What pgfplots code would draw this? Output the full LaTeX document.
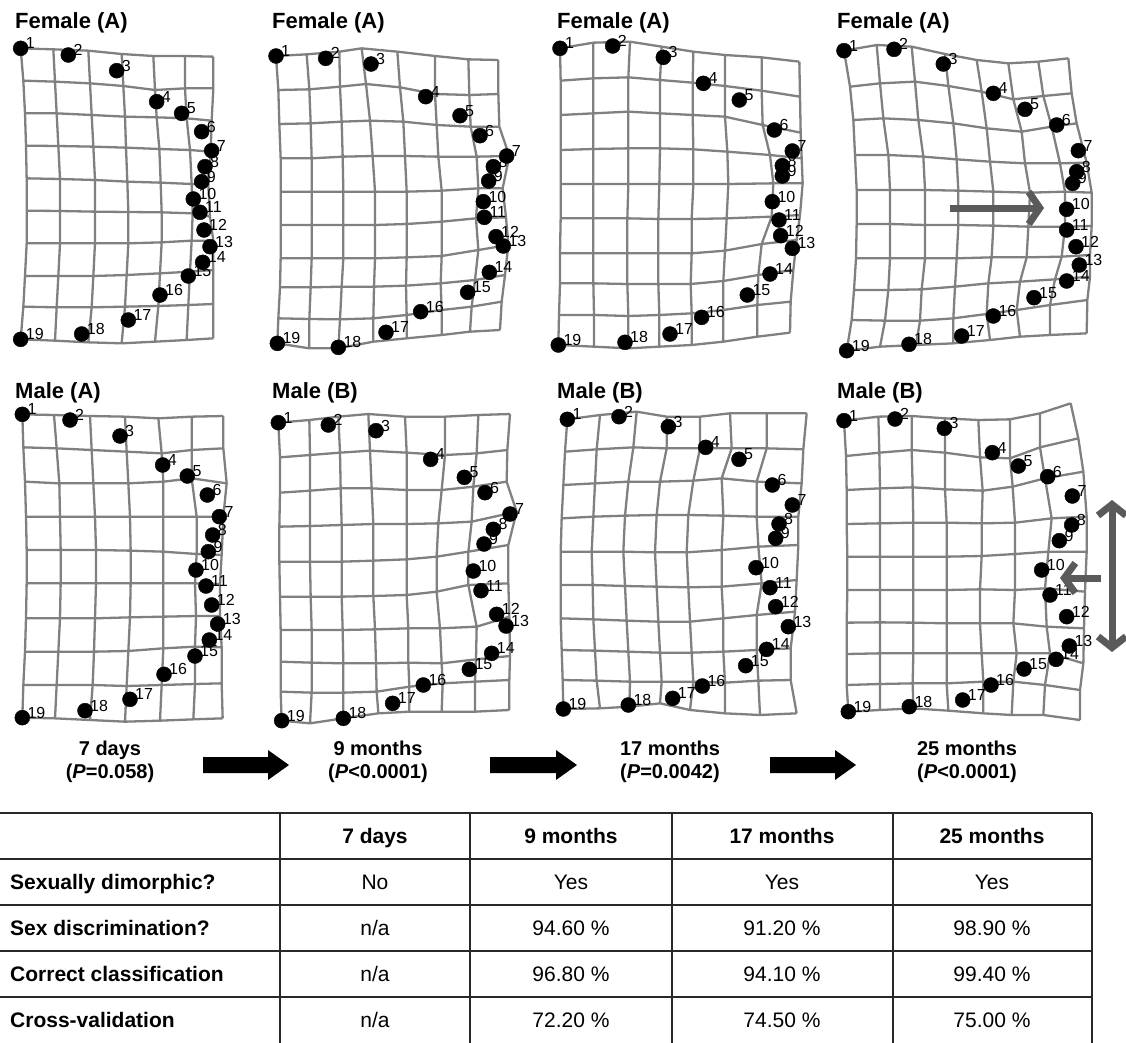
\documentclass[border=0pt]{standalone}
\usepackage{fontspec}
\setmainfont{Liberation Sans}
\usepackage{pgfplots}
\pgfplotsset{compat=1.18}
\usepackage{pgfplotstable}
\usetikzlibrary{arrows.meta}
\definecolor{gridc}{RGB}{128,128,128}
\definecolor{arrc}{RGB}{90,90,90}
\definecolor{tabc}{RGB}{40,40,40}
\newcommand\lmfont{\fontsize{16}{16}\selectfont}
\newcommand\ttlfont{\fontsize{22}{24}\selectfont\bfseries}
\newcommand\capfont{\fontsize{20}{23}\selectfont\bfseries}
\newcommand\tabfont{\fontsize{21}{23}\selectfont}
\pgfplotsset{
  gl/.style={draw=gridc, line width=2.3pt, no marks, line join=round, unbounded coords=jump, forget plot},
  lmlab/.style={only marks, mark=none, point meta=explicit symbolic, nodes near coords,
    every node near coord/.append style={anchor=west, font=\lmfont, xshift=5pt, yshift=5pt, inner sep=0pt, text=black}},
  lm/.style={only marks, mark=*, mark size=7.5pt, black},
  panelax/.style={anchor=north west, hide axis, clip=false, x=0.333333pt, y=0.333333pt, y dir=reverse, xmin=0, xmax=880, ymin=0, ymax=1080},
}
\newcommand\landmarks[1]{%
  \addplot[lmlab] table[x=x,y=y,meta=l]{#1};
  \addplot[lm] table[x=x,y=y]{#1};
}
% ---------------- landmark tables (panel units = 1/3 px) ----------------
\pgfplotstableread[row sep=\\]{l x y\\
1 62 145\\ 2 205 165\\ 3 350 212\\ 4 470 305\\ 5 545 340\\ 6 605 395\\ 7 635 452\\ 8 615 500\\ 9 605 545\\ 10 580 597\\
11 600 637\\ 12 612 690\\ 13 630 740\\ 14 608 787\\ 15 565 828\\ 16 480 885\\ 17 385 960\\ 18 245 1002\\ 19 62 1018\\}\LPa
\pgfplotstableread[row sep=\\]{l x y\\
1 48 168\\ 2 197 175\\ 3 333 192\\ 4 497 290\\ 5 600 347\\ 6 660 407\\ 7 740 468\\ 8 700 500\\ 9 686 543\\ 10 670 605\\
11 673 652\\ 12 708 710\\ 13 730 738\\ 14 688 817\\ 15 623 877\\ 16 482 935\\ 17 378 997\\ 18 235 1042\\ 19 52 1030\\}\LPb
\pgfplotstableread[row sep=\\]{l x y\\
1 60 145\\ 2 218 138\\ 3 370 172\\ 4 490 250\\ 5 598 300\\ 6 703 390\\ 7 757 453\\ 8 727 497\\ 9 727 528\\ 10 697 605\\
11 717 660\\ 12 722 707\\ 13 757 745\\ 14 690 822\\ 15 622 885\\ 16 485 952\\ 17 390 1002\\ 18 255 1027\\ 19 55 1035\\}\LPc
\pgfplotstableread[row sep=\\]{l x y\\
1 42 152\\ 2 192 148\\ 3 340 192\\ 4 490 280\\ 5 585 328\\ 6 680 375\\ 7 745 452\\ 8 740 515\\ 9 728 550\\ 10 710 628\\
11 710 690\\ 12 738 740\\ 13 748 795\\ 14 710 843\\ 15 612 893\\ 16 490 948\\ 17 395 1008\\ 18 237 1033\\ 19 50 1052\\}\LPd
\pgfplotstableread[row sep=\\]{l x y\\
1 67 133\\ 2 210 150\\ 3 360 198\\ 4 488 285\\ 5 562 318\\ 6 622 375\\ 7 658 440\\ 8 638 495\\ 9 625 545\\ 10 588 600\\
11 618 648\\ 12 635 705\\ 13 653 762\\ 14 628 810\\ 15 585 858\\ 16 492 913\\ 17 390 988\\ 18 255 1022\\ 19 67 1043\\}\LMa
\pgfplotstableread[row sep=\\]{l x y\\
1 55 158\\ 2 205 165\\ 3 348 182\\ 4 512 268\\ 5 613 322\\ 6 675 368\\ 7 750 432\\ 8 700 478\\ 9 672 522\\ 10 640 603\\
11 663 662\\ 12 710 733\\ 13 738 768\\ 14 695 850\\ 15 628 898\\ 16 490 945\\ 17 398 1000\\ 18 250 1045\\ 19 65 1052\\}\LMb
\pgfplotstableread[row sep=\\]{l x y\\
1 82 148\\ 2 237 140\\ 3 385 170\\ 4 497 232\\ 5 597 268\\ 6 697 345\\ 7 757 405\\ 8 717 462\\ 9 707 505\\ 10 648 593\\
11 690 653\\ 12 707 710\\ 13 745 770\\ 14 680 838\\ 15 617 887\\ 16 487 948\\ 17 398 985\\ 18 265 1005\\ 19 70 1017\\}\LMc
\pgfplotstableread[row sep=\\]{l x y\\
1 42 152\\ 2 195 147\\ 3 343 175\\ 4 487 248\\ 5 565 288\\ 6 653 320\\ 7 727 378\\ 8 725 465\\ 9 688 512\\ 10 635 600\\
11 660 675\\ 12 710 740\\ 13 718 828\\ 14 678 868\\ 15 582 897\\ 16 483 945\\ 17 398 990\\ 18 238 1010\\ 19 55 1025\\}\LMd
% ---------------- deformation grids: grid rows, then grid columns, broken by nan ----------------
\pgfplotstableread[row sep=\\]{x y\\
62 145\\ 160 148\\ 265 152\\ 365 162\\ 460 168\\ 555 168\\ 640 170\\ nan nan\\
70 242\\ 165 245\\ 270 250\\ 370 258\\ 465 270\\ 555 265\\ 640 265\\ nan nan\\
75 340\\ 170 340\\ 275 345\\ 375 350\\ 470 352\\ 560 355\\ 635 362\\ nan nan\\
78 437\\ 175 438\\ 280 440\\ 378 443\\ 478 447\\ 570 450\\ 632 455\\ nan nan\\
80 535\\ 180 537\\ 285 540\\ 382 545\\ 482 548\\ 575 552\\ 625 555\\ nan nan\\
80 632\\ 180 633\\ 285 635\\ 385 636\\ 485 637\\ 578 640\\ 630 650\\ nan nan\\
80 730\\ 180 730\\ 285 730\\ 385 730\\ 485 727\\ 575 722\\ 640 722\\ nan nan\\
75 828\\ 175 828\\ 280 828\\ 380 825\\ 480 820\\ 570 815\\ 640 810\\ nan nan\\
70 920\\ 170 922\\ 275 922\\ 375 920\\ 475 918\\ 565 915\\ 640 912\\ nan nan\\
62 1018\\ 165 1022\\ 265 1027\\ 365 1030\\ 465 1025\\ 560 1020\\ 640 1015\\ nan nan\\
62 145\\ 70 242\\ 75 340\\ 78 437\\ 80 535\\ 80 632\\ 80 730\\ 75 828\\ 70 920\\ 62 1018\\ nan nan\\
160 148\\ 165 245\\ 170 340\\ 175 438\\ 180 537\\ 180 633\\ 180 730\\ 175 828\\ 170 922\\ 165 1022\\ nan nan\\
265 152\\ 270 250\\ 275 345\\ 280 440\\ 285 540\\ 285 635\\ 285 730\\ 280 828\\ 275 922\\ 265 1027\\ nan nan\\
365 162\\ 370 258\\ 375 350\\ 378 443\\ 382 545\\ 385 636\\ 385 730\\ 380 825\\ 375 920\\ 365 1030\\ nan nan\\
460 168\\ 465 270\\ 470 352\\ 478 447\\ 482 548\\ 485 637\\ 485 727\\ 480 820\\ 475 918\\ 465 1025\\ nan nan\\
555 168\\ 555 265\\ 560 355\\ 570 450\\ 575 552\\ 578 640\\ 575 722\\ 570 815\\ 565 915\\ 560 1020\\ nan nan\\
640 170\\ 640 265\\ 635 362\\ 632 455\\ 625 555\\ 630 650\\ 640 722\\ 640 810\\ 640 912\\ 640 1015\\}\GPa
\pgfplotstableread[row sep=\\]{x y\\
48 168\\ 140 163\\ 238 155\\ 305 145\\ 412 155\\ 525 168\\ 625 178\\ 715 180\\ nan nan\\
55 270\\ 148 268\\ 240 260\\ 318 252\\ 420 262\\ 525 282\\ 628 285\\ 715 282\\ nan nan\\
58 372\\ 152 370\\ 245 365\\ 330 362\\ 430 365\\ 530 375\\ 632 380\\ 718 380\\ nan nan\\
62 475\\ 155 475\\ 248 470\\ 338 468\\ 435 468\\ 535 470\\ 650 470\\ 748 468\\ nan nan\\
62 575\\ 155 575\\ 250 575\\ 345 575\\ 440 575\\ 545 572\\ 655 565\\ 728 565\\ nan nan\\
62 675\\ 155 675\\ 250 675\\ 345 675\\ 440 672\\ 545 665\\ 648 655\\ 738 652\\ nan nan\\
62 775\\ 155 775\\ 250 775\\ 345 775\\ 440 772\\ 545 768\\ 655 750\\ 745 735\\ nan nan\\
60 862\\ 152 862\\ 245 860\\ 342 860\\ 438 857\\ 542 850\\ 645 840\\ 735 825\\ nan nan\\
55 955\\ 148 957\\ 240 958\\ 340 955\\ 440 945\\ 545 930\\ 635 920\\ 725 905\\ nan nan\\
52 1030\\ 148 1045\\ 235 1045\\ 340 1025\\ 440 1015\\ 545 1005\\ 630 995\\ 720 990\\ nan nan\\
48 168\\ 55 270\\ 58 372\\ 62 475\\ 62 575\\ 62 675\\ 62 775\\ 60 862\\ 55 955\\ 52 1030\\ nan nan\\
140 163\\ 148 268\\ 152 370\\ 155 475\\ 155 575\\ 155 675\\ 155 775\\ 152 862\\ 148 957\\ 148 1045\\ nan nan\\
238 155\\ 240 260\\ 245 365\\ 248 470\\ 250 575\\ 250 675\\ 250 775\\ 245 860\\ 240 958\\ 235 1045\\ nan nan\\
305 145\\ 318 252\\ 330 362\\ 338 468\\ 345 575\\ 345 675\\ 345 775\\ 342 860\\ 340 955\\ 340 1025\\ nan nan\\
412 155\\ 420 262\\ 430 365\\ 435 468\\ 440 575\\ 440 672\\ 440 772\\ 438 857\\ 440 945\\ 440 1015\\ nan nan\\
525 168\\ 525 282\\ 530 375\\ 535 470\\ 545 572\\ 545 665\\ 545 768\\ 542 850\\ 545 930\\ 545 1005\\ nan nan\\
625 178\\ 628 285\\ 632 380\\ 650 470\\ 655 565\\ 648 655\\ 655 750\\ 645 840\\ 635 920\\ 630 995\\ nan nan\\
715 180\\ 715 282\\ 718 380\\ 748 468\\ 728 565\\ 738 652\\ 745 735\\ 735 825\\ 725 905\\ 720 990\\}\GPb
\pgfplotstableread[row sep=\\]{x y\\
60 145\\ 160 128\\ 270 125\\ 365 140\\ 460 155\\ 555 165\\ 665 172\\ 778 185\\ nan nan\\
62 242\\ 160 235\\ 265 232\\ 360 240\\ 458 248\\ 555 258\\ 665 272\\ 780 290\\ nan nan\\
62 345\\ 160 340\\ 265 335\\ 360 340\\ 458 345\\ 555 350\\ 668 375\\ 782 398\\ nan nan\\
62 450\\ 160 447\\ 265 445\\ 360 445\\ 460 448\\ 562 455\\ 690 465\\ 785 475\\ nan nan\\
62 552\\ 160 552\\ 265 552\\ 358 552\\ 460 552\\ 565 552\\ 700 550\\ 788 550\\ nan nan\\
62 655\\ 160 655\\ 262 655\\ 355 657\\ 455 657\\ 560 655\\ 695 650\\ 780 645\\ nan nan\\
60 760\\ 160 760\\ 262 760\\ 355 760\\ 455 760\\ 555 752\\ 665 732\\ 770 720\\ nan nan\\
60 850\\ 160 850\\ 262 852\\ 355 852\\ 452 852\\ 550 843\\ 655 825\\ 760 810\\ nan nan\\
57 945\\ 162 945\\ 265 948\\ 358 945\\ 455 940\\ 550 930\\ 652 915\\ 752 905\\ nan nan\\
55 1035\\ 162 1040\\ 265 1045\\ 358 1040\\ 455 1035\\ 550 1025\\ 652 1010\\ 750 998\\ nan nan\\
60 145\\ 62 242\\ 62 345\\ 62 450\\ 62 552\\ 62 655\\ 60 760\\ 60 850\\ 57 945\\ 55 1035\\ nan nan\\
160 128\\ 160 235\\ 160 340\\ 160 447\\ 160 552\\ 160 655\\ 160 760\\ 160 850\\ 162 945\\ 162 1040\\ nan nan\\
270 125\\ 265 232\\ 265 335\\ 265 445\\ 265 552\\ 262 655\\ 262 760\\ 262 852\\ 265 948\\ 265 1045\\ nan nan\\
365 140\\ 360 240\\ 360 340\\ 360 445\\ 358 552\\ 355 657\\ 355 760\\ 355 852\\ 358 945\\ 358 1040\\ nan nan\\
460 155\\ 458 248\\ 458 345\\ 460 448\\ 460 552\\ 455 657\\ 455 760\\ 452 852\\ 455 940\\ 455 1035\\ nan nan\\
555 165\\ 555 258\\ 555 350\\ 562 455\\ 565 552\\ 560 655\\ 555 752\\ 550 843\\ 550 930\\ 550 1025\\ nan nan\\
665 172\\ 665 272\\ 668 375\\ 690 465\\ 700 550\\ 695 650\\ 665 732\\ 655 825\\ 652 915\\ 652 1010\\ nan nan\\
778 185\\ 780 290\\ 782 398\\ 785 475\\ 788 550\\ 780 645\\ 770 720\\ 760 810\\ 752 905\\ 750 998\\}\GPc
\pgfplotstableread[row sep=\\]{x y\\
42 152\\ 140 135\\ 245 140\\ 345 162\\ 440 180\\ 535 190\\ 625 185\\ 715 175\\ nan nan\\
60 260\\ 150 250\\ 255 245\\ 355 258\\ 455 275\\ 550 298\\ 640 288\\ 725 280\\ nan nan\\
70 360\\ 160 355\\ 265 360\\ 370 370\\ 470 385\\ 575 395\\ 665 380\\ 740 370\\ nan nan\\
75 465\\ 175 465\\ 280 470\\ 380 478\\ 480 485\\ 585 490\\ 690 490\\ 770 488\\ nan nan\\
80 570\\ 180 570\\ 285 570\\ 385 572\\ 490 575\\ 600 578\\ 705 575\\ 785 578\\ nan nan\\
80 672\\ 180 672\\ 285 675\\ 385 675\\ 490 677\\ 595 680\\ 705 680\\ 785 678\\ nan nan\\
78 775\\ 180 775\\ 285 775\\ 380 775\\ 485 772\\ 590 772\\ 695 770\\ 780 765\\ nan nan\\
72 870\\ 175 870\\ 275 868\\ 375 860\\ 475 850\\ 570 845\\ 675 838\\ 780 830\\ nan nan\\
65 960\\ 165 962\\ 270 962\\ 370 955\\ 470 942\\ 560 930\\ 660 915\\ 772 900\\ nan nan\\
50 1052\\ 150 1040\\ 258 1035\\ 370 1030\\ 480 1020\\ 570 1010\\ 660 1005\\ 770 1000\\ nan nan\\
42 152\\ 60 260\\ 70 360\\ 75 465\\ 80 570\\ 80 672\\ 78 775\\ 72 870\\ 65 960\\ 50 1052\\ nan nan\\
140 135\\ 150 250\\ 160 355\\ 175 465\\ 180 570\\ 180 672\\ 180 775\\ 175 870\\ 165 962\\ 150 1040\\ nan nan\\
245 140\\ 255 245\\ 265 360\\ 280 470\\ 285 570\\ 285 675\\ 285 775\\ 275 868\\ 270 962\\ 258 1035\\ nan nan\\
345 162\\ 355 258\\ 370 370\\ 380 478\\ 385 572\\ 385 675\\ 380 775\\ 375 860\\ 370 955\\ 370 1030\\ nan nan\\
440 180\\ 455 275\\ 470 385\\ 480 485\\ 490 575\\ 490 677\\ 485 772\\ 475 850\\ 470 942\\ 480 1020\\ nan nan\\
535 190\\ 550 298\\ 575 395\\ 585 490\\ 600 578\\ 595 680\\ 590 772\\ 570 845\\ 560 930\\ 570 1010\\ nan nan\\
625 185\\ 640 288\\ 665 380\\ 690 490\\ 705 575\\ 705 680\\ 695 770\\ 675 838\\ 660 915\\ 660 1005\\ nan nan\\
715 175\\ 725 280\\ 740 370\\ 770 488\\ 785 578\\ 785 678\\ 780 765\\ 780 830\\ 772 900\\ 770 1000\\}\GPd
\pgfplotstableread[row sep=\\]{x y\\
67 133\\ 162 135\\ 270 138\\ 375 140\\ 475 145\\ 575 140\\ 670 138\\ nan nan\\
70 232\\ 170 235\\ 275 240\\ 380 245\\ 485 250\\ 575 240\\ 670 235\\ nan nan\\
75 335\\ 178 340\\ 280 340\\ 385 340\\ 490 335\\ 575 325\\ 680 340\\ nan nan\\
78 440\\ 180 440\\ 285 440\\ 390 440\\ 490 440\\ 590 440\\ 670 440\\ nan nan\\
80 540\\ 182 540\\ 288 540\\ 392 542\\ 490 545\\ 590 552\\ 665 555\\ nan nan\\
80 640\\ 182 640\\ 288 640\\ 392 640\\ 490 640\\ 585 640\\ 660 642\\ nan nan\\
78 745\\ 180 745\\ 285 745\\ 390 742\\ 490 740\\ 588 738\\ 660 738\\ nan nan\\
75 845\\ 175 845\\ 282 845\\ 385 843\\ 490 835\\ 585 830\\ 665 832\\ nan nan\\
70 945\\ 170 945\\ 278 945\\ 380 948\\ 485 945\\ 585 942\\ 665 940\\ nan nan\\
67 1043\\ 165 1045\\ 270 1050\\ 375 1055\\ 480 1052\\ 580 1048\\ 668 1045\\ nan nan\\
67 133\\ 70 232\\ 75 335\\ 78 440\\ 80 540\\ 80 640\\ 78 745\\ 75 845\\ 70 945\\ 67 1043\\ nan nan\\
162 135\\ 170 235\\ 178 340\\ 180 440\\ 182 540\\ 182 640\\ 180 745\\ 175 845\\ 170 945\\ 165 1045\\ nan nan\\
270 138\\ 275 240\\ 280 340\\ 285 440\\ 288 540\\ 288 640\\ 285 745\\ 282 845\\ 278 945\\ 270 1050\\ nan nan\\
375 140\\ 380 245\\ 385 340\\ 390 440\\ 392 542\\ 392 640\\ 390 742\\ 385 843\\ 380 948\\ 375 1055\\ nan nan\\
475 145\\ 485 250\\ 490 335\\ 490 440\\ 490 545\\ 490 640\\ 490 740\\ 490 835\\ 485 945\\ 480 1052\\ nan nan\\
575 140\\ 575 240\\ 575 325\\ 590 440\\ 590 552\\ 585 640\\ 588 738\\ 585 830\\ 585 942\\ 580 1048\\ nan nan\\
670 138\\ 670 235\\ 680 340\\ 670 440\\ 665 555\\ 660 642\\ 660 738\\ 665 832\\ 665 940\\ 668 1045\\}\GMa
\pgfplotstableread[row sep=\\]{x y\\
55 158\\ 148 150\\ 235 140\\ 325 132\\ 435 140\\ 555 140\\ 655 135\\ 750 132\\ nan nan\\
60 262\\ 150 255\\ 240 248\\ 330 242\\ 440 248\\ 555 255\\ 650 250\\ 742 240\\ nan nan\\
60 368\\ 150 362\\ 242 355\\ 335 355\\ 440 360\\ 545 360\\ 640 350\\ 740 335\\ nan nan\\
58 470\\ 150 468\\ 245 465\\ 340 462\\ 440 462\\ 535 460\\ 635 455\\ 770 425\\ nan nan\\
58 575\\ 150 575\\ 245 575\\ 340 572\\ 440 568\\ 530 560\\ 625 545\\ 745 525\\ nan nan\\
60 680\\ 152 680\\ 245 680\\ 340 678\\ 440 675\\ 530 665\\ 625 645\\ 745 640\\ nan nan\\
62 780\\ 155 780\\ 248 780\\ 345 778\\ 445 775\\ 540 775\\ 650 770\\ 748 740\\ nan nan\\
62 875\\ 155 878\\ 250 880\\ 348 880\\ 445 878\\ 545 880\\ 648 868\\ 750 858\\ nan nan\\
62 965\\ 155 968\\ 250 968\\ 350 965\\ 448 950\\ 548 940\\ 645 935\\ 748 930\\ nan nan\\
65 1052\\ 150 1060\\ 250 1045\\ 355 1030\\ 448 1025\\ 545 1025\\ 645 1025\\ 748 1020\\ nan nan\\
55 158\\ 60 262\\ 60 368\\ 58 470\\ 58 575\\ 60 680\\ 62 780\\ 62 875\\ 62 965\\ 65 1052\\ nan nan\\
148 150\\ 150 255\\ 150 362\\ 150 468\\ 150 575\\ 152 680\\ 155 780\\ 155 878\\ 155 968\\ 150 1060\\ nan nan\\
235 140\\ 240 248\\ 242 355\\ 245 465\\ 245 575\\ 245 680\\ 248 780\\ 250 880\\ 250 968\\ 250 1045\\ nan nan\\
325 132\\ 330 242\\ 335 355\\ 340 462\\ 340 572\\ 340 678\\ 345 778\\ 348 880\\ 350 965\\ 355 1030\\ nan nan\\
435 140\\ 440 248\\ 440 360\\ 440 462\\ 440 568\\ 440 675\\ 445 775\\ 445 878\\ 448 950\\ 448 1025\\ nan nan\\
555 140\\ 555 255\\ 545 360\\ 535 460\\ 530 560\\ 530 665\\ 540 775\\ 545 880\\ 548 940\\ 545 1025\\ nan nan\\
655 135\\ 650 250\\ 640 350\\ 635 455\\ 625 545\\ 625 645\\ 650 770\\ 648 868\\ 645 935\\ 645 1025\\ nan nan\\
750 132\\ 742 240\\ 740 335\\ 770 425\\ 745 525\\ 745 640\\ 748 740\\ 750 858\\ 748 930\\ 748 1020\\}\GMb
\pgfplotstableread[row sep=\\]{x y\\
82 148\\ 180 135\\ 290 125\\ 380 140\\ 480 140\\ 570 130\\ 680 130\\ 800 130\\ nan nan\\
75 245\\ 170 238\\ 280 232\\ 380 235\\ 480 235\\ 575 235\\ 680 235\\ 790 238\\ nan nan\\
70 345\\ 165 340\\ 265 335\\ 360 335\\ 460 332\\ 545 325\\ 650 335\\ 785 340\\ nan nan\\
65 445\\ 160 440\\ 255 437\\ 350 435\\ 445 435\\ 550 437\\ 650 440\\ 775 440\\ nan nan\\
62 545\\ 155 545\\ 250 545\\ 345 547\\ 440 547\\ 545 540\\ 655 530\\ 775 525\\ nan nan\\
62 645\\ 158 645\\ 255 648\\ 350 650\\ 445 652\\ 545 650\\ 665 640\\ 770 630\\ nan nan\\
62 745\\ 160 748\\ 260 752\\ 355 755\\ 450 755\\ 550 745\\ 650 735\\ 765 725\\ nan nan\\
65 840\\ 165 842\\ 265 845\\ 360 848\\ 455 848\\ 550 845\\ 650 840\\ 752 835\\ nan nan\\
68 930\\ 170 932\\ 270 935\\ 365 935\\ 460 935\\ 555 938\\ 655 932\\ 752 930\\ nan nan\\
70 1017\\ 180 1015\\ 268 1010\\ 360 1000\\ 450 1020\\ 555 1030\\ 660 1035\\ 770 1030\\ nan nan\\
82 148\\ 75 245\\ 70 345\\ 65 445\\ 62 545\\ 62 645\\ 62 745\\ 65 840\\ 68 930\\ 70 1017\\ nan nan\\
180 135\\ 170 238\\ 165 340\\ 160 440\\ 155 545\\ 158 645\\ 160 748\\ 165 842\\ 170 932\\ 180 1015\\ nan nan\\
290 125\\ 280 232\\ 265 335\\ 255 437\\ 250 545\\ 255 648\\ 260 752\\ 265 845\\ 270 935\\ 268 1010\\ nan nan\\
380 140\\ 380 235\\ 360 335\\ 350 435\\ 345 547\\ 350 650\\ 355 755\\ 360 848\\ 365 935\\ 360 1000\\ nan nan\\
480 140\\ 480 235\\ 460 332\\ 445 435\\ 440 547\\ 445 652\\ 450 755\\ 455 848\\ 460 935\\ 450 1020\\ nan nan\\
570 130\\ 575 235\\ 545 325\\ 550 437\\ 545 540\\ 545 650\\ 550 745\\ 550 845\\ 555 938\\ 555 1030\\ nan nan\\
680 130\\ 680 235\\ 650 335\\ 650 440\\ 655 530\\ 665 640\\ 650 735\\ 650 840\\ 655 932\\ 660 1035\\ nan nan\\
800 130\\ 790 238\\ 785 340\\ 775 440\\ 775 525\\ 770 630\\ 765 725\\ 752 835\\ 752 930\\ 770 1030\\}\GMc
\pgfplotstableread[row sep=\\]{x y\\
42 152\\ 145 140\\ 245 138\\ 345 145\\ 445 150\\ 540 148\\ 630 130\\ 722 100\\ nan nan\\
48 258\\ 148 248\\ 245 240\\ 345 248\\ 450 262\\ 540 265\\ 630 232\\ 745 205\\ nan nan\\
50 360\\ 150 355\\ 248 352\\ 345 358\\ 458 362\\ 548 350\\ 645 325\\ 760 305\\ nan nan\\
50 462\\ 150 460\\ 250 458\\ 350 458\\ 455 460\\ 555 458\\ 665 445\\ 770 440\\ nan nan\\
52 560\\ 150 560\\ 250 560\\ 350 560\\ 455 558\\ 555 552\\ 655 545\\ 770 545\\ nan nan\\
52 660\\ 150 660\\ 250 660\\ 350 660\\ 450 658\\ 555 660\\ 645 655\\ 765 665\\ nan nan\\
50 758\\ 150 757\\ 250 758\\ 350 760\\ 450 760\\ 550 760\\ 650 770\\ 762 775\\ nan nan\\
50 852\\ 150 850\\ 250 850\\ 350 850\\ 455 850\\ 560 850\\ 660 850\\ 760 880\\ nan nan\\
50 945\\ 150 942\\ 248 940\\ 350 940\\ 460 935\\ 550 935\\ 645 945\\ 750 960\\ nan nan\\
55 1025\\ 150 1020\\ 250 1015\\ 355 1022\\ 460 1030\\ 545 1035\\ 640 1035\\ 750 1050\\ nan nan\\
42 152\\ 48 258\\ 50 360\\ 50 462\\ 52 560\\ 52 660\\ 50 758\\ 50 852\\ 50 945\\ 55 1025\\ nan nan\\
145 140\\ 148 248\\ 150 355\\ 150 460\\ 150 560\\ 150 660\\ 150 757\\ 150 850\\ 150 942\\ 150 1020\\ nan nan\\
245 138\\ 245 240\\ 248 352\\ 250 458\\ 250 560\\ 250 660\\ 250 758\\ 250 850\\ 248 940\\ 250 1015\\ nan nan\\
345 145\\ 345 248\\ 345 358\\ 350 458\\ 350 560\\ 350 660\\ 350 760\\ 350 850\\ 350 940\\ 355 1022\\ nan nan\\
445 150\\ 450 262\\ 458 362\\ 455 460\\ 455 558\\ 450 658\\ 450 760\\ 455 850\\ 460 935\\ 460 1030\\ nan nan\\
540 148\\ 540 265\\ 548 350\\ 555 458\\ 555 552\\ 555 660\\ 550 760\\ 560 850\\ 550 935\\ 545 1035\\ nan nan\\
630 130\\ 630 232\\ 645 325\\ 665 445\\ 655 545\\ 645 655\\ 650 770\\ 660 850\\ 645 945\\ 640 1035\\ nan nan\\
722 100\\ 745 205\\ 760 305\\ 770 440\\ 770 545\\ 765 665\\ 762 775\\ 760 880\\ 750 960\\ 750 1050\\}\GMd
\begin{document}
\begin{tikzpicture}
\path[use as bounding box] (0pt,0pt) rectangle (1126pt,-1043pt);
% ---------------- top row: female ----------------
\begin{axis}[panelax, at={(0pt,0pt)}]
\addplot[gl] table[x=x,y=y]{\GPa};
\landmarks{\LPa}
\end{axis}
\begin{axis}[panelax, at={(260pt,0pt)}]
\addplot[gl] table[x=x,y=y]{\GPb};
\landmarks{\LPb}
\end{axis}
\begin{axis}[panelax, at={(540pt,0pt)}]
\addplot[gl] table[x=x,y=y]{\GPc};
\landmarks{\LPc}
\end{axis}
\begin{axis}[panelax, at={(830pt,0pt)}]
\addplot[gl] table[x=x,y=y]{\GPd};
\landmarks{\LPd}
\end{axis}
% ---------------- bottom row: male ----------------
\begin{axis}[panelax, at={(0pt,-370pt)}]
\addplot[gl] table[x=x,y=y]{\GMa};
\landmarks{\LMa}
\end{axis}
\begin{axis}[panelax, at={(260pt,-370pt)}]
\addplot[gl] table[x=x,y=y]{\GMb};
\landmarks{\LMb}
\end{axis}
\begin{axis}[panelax, at={(540pt,-370pt)}]
\addplot[gl] table[x=x,y=y]{\GMc};
\landmarks{\LMc}
\end{axis}
\begin{axis}[panelax, at={(830pt,-370pt)}]
\addplot[gl] table[x=x,y=y]{\GMd};
\landmarks{\LMd}
\end{axis}
\begin{scope}[x=1pt,y=-1pt]
% titles
\node[anchor=base west, font=\ttlfont, inner sep=0pt] at (15,29) {Female (A)};
\node[anchor=base west, font=\ttlfont, inner sep=0pt] at (272,29) {Female (A)};
\node[anchor=base west, font=\ttlfont, inner sep=0pt] at (557,29) {Female (A)};
\node[anchor=base west, font=\ttlfont, inner sep=0pt] at (837,29) {Female (A)};
\node[anchor=base west, font=\ttlfont, inner sep=0pt] at (15,398) {Male (A)};
\node[anchor=base west, font=\ttlfont, inner sep=0pt] at (272,398) {Male (B)};
\node[anchor=base west, font=\ttlfont, inner sep=0pt] at (557,398) {Male (B)};
\node[anchor=base west, font=\ttlfont, inner sep=0pt] at (837,398) {Male (B)};
% panel arrows
\draw[arrc, line width=7pt, -{Straight Barb[length=11pt,width=32pt]}] (950,208) -- (1044,208);
\draw[arrc, line width=7pt, {Straight Barb[length=11pt,width=28pt]}-{Straight Barb[length=11pt,width=28pt]}] (1112,500) -- (1112,652);
\draw[arrc, line width=7pt, -{Straight Barb[length=11pt,width=30pt]}] (1101,578) -- (1060,578);
% captions
\node[font=\capfont, align=center, inner sep=0pt] at (110,762) {7 days\\(\textit{P}=0.058)};
\node[font=\capfont, align=center, inner sep=0pt] at (378,762) {9 months\\(\textit{P}<0.0001)};
\node[font=\capfont, align=center, inner sep=0pt] at (670,762) {17 months\\(\textit{P}=0.0042)};
\node[font=\capfont, align=center, inner sep=0pt] at (967,762) {25 months\\(\textit{P}<0.0001)};
\fill (203,757) -- (268,757) -- (268,750) -- (289,765) -- (268,780) -- (268,773) -- (203,773) -- cycle;
\fill (490,757) -- (556,757) -- (556,750) -- (577,765) -- (556,780) -- (556,773) -- (490,773) -- cycle;
\fill (770,757) -- (835,757) -- (835,750) -- (856,765) -- (835,780) -- (835,773) -- (770,773) -- cycle;
% table
\foreach \yy in {813,859,905,951,997} {\draw[tabc, line width=1.6pt] (0,\yy) -- (1092,\yy);}
\foreach \xx in {280,470,672,893,1092} {\draw[tabc, line width=1.6pt] (\xx,813) -- (\xx,1043);}
\begin{scope}[every node/.style={font=\tabfont, inner sep=0pt}]
\node[font=\tabfont\bfseries, anchor=base] at (375,843) {7 days};
\node[font=\tabfont\bfseries, anchor=base] at (571,843) {9 months};
\node[font=\tabfont\bfseries, anchor=base] at (782,843) {17 months};
\node[font=\tabfont\bfseries, anchor=base] at (992,843) {25 months};
\node[font=\tabfont\bfseries, anchor=base west] at (10,889) {Sexually dimorphic?};
\node[font=\tabfont\bfseries, anchor=base west] at (10,935) {Sex discrimination?};
\node[font=\tabfont\bfseries, anchor=base west] at (10,981) {Correct classification};
\node[font=\tabfont\bfseries, anchor=base west] at (10,1027) {Cross-validation};
\node[anchor=base] at (375,889) {No};
\node[anchor=base] at (571,889) {Yes};
\node[anchor=base] at (782,889) {Yes};
\node[anchor=base] at (992,889) {Yes};
\node[anchor=base] at (375,935) {n/a};
\node[anchor=base] at (571,935) {94.60 \%};
\node[anchor=base] at (782,935) {91.20 \%};
\node[anchor=base] at (992,935) {98.90 \%};
\node[anchor=base] at (375,981) {n/a};
\node[anchor=base] at (571,981) {96.80 \%};
\node[anchor=base] at (782,981) {94.10 \%};
\node[anchor=base] at (992,981) {99.40 \%};
\node[anchor=base] at (375,1027) {n/a};
\node[anchor=base] at (571,1027) {72.20 \%};
\node[anchor=base] at (782,1027) {74.50 \%};
\node[anchor=base] at (992,1027) {75.00 \%};
\end{scope}
\end{scope}
\end{tikzpicture}
\end{document}
